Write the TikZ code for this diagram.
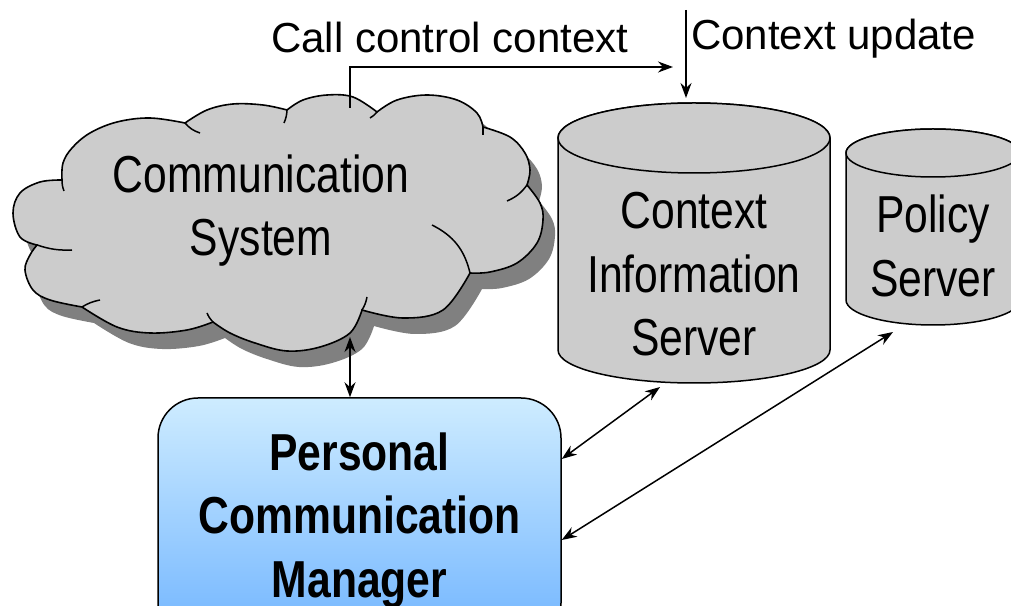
\documentclass[tikz,border=0pt]{standalone}
\usepackage{fontspec}
\setmainfont{Liberation Sans}
\newfontfamily\narrowfont{Liberation Sans}[FakeStretch=0.82]
\usetikzlibrary{arrows.meta}
\usetikzlibrary{calc}
\definecolor{cloudgray}{RGB}{204,204,204}
\definecolor{shadowgray}{RGB}{128,128,128}
\definecolor{pcmtop}{RGB}{206,236,255}
\definecolor{pcmbottom}{RGB}{112,180,255}
\tikzset{l/.style={font=\fontsize{42}{50}\selectfont, inner sep=0pt}}
\tikzset{m/.style={font=\narrowfont\fontsize{52}{63.5}\selectfont, align=center, inner sep=0pt}}
\tikzset{conn/.style={line width=1.5pt}}
\tikzset{crease/.style={line width=1.5pt}}
\tikzset{cyl/.style={draw, line width=1.5pt, fill=cloudgray}}
\tikzset{cloud path/.style={insert path={
  (62,425) -- plot[smooth, tension=.6] coordinates {(62,425) (63,442) (72,457) (90,472) (117,483) (150,487) (185,482)}
  -- plot[smooth, tension=.6] coordinates {(185,482) (207,495) (233,501) (263,500) (287,495)}
  -- plot[smooth, tension=.6] coordinates {(287,495) (303,505) (327,510) (353,508) (377,493)}
  -- plot[smooth, tension=.6] coordinates {(377,493) (397,505) (427,510) (457,505) (477,492) (483,478)}
  -- plot[smooth, tension=.6] coordinates {(483,478) (510,468) (525,452) (530,435) (527,420)}
  -- plot[smooth, tension=.6] coordinates {(527,420) (540,402) (543,385) (537,362) (517,342) (490,333) (470,332)}
  -- plot[smooth, tension=.6] coordinates {(470,332) (443,295) (403,287) (362,295)}
  -- plot[smooth, tension=.6] coordinates {(362,295) (350,272) (320,258) (287,254) (255,262) (230,272) (213,283)}
  -- plot[smooth, tension=.6] coordinates {(213,283) (187,275) (150,272) (117,278) (82,298)}
  -- plot[smooth, tension=.6] coordinates {(82,298) (50,305) (33,315) (25,335) (30,350) (37,360)}
  -- plot[smooth, tension=.6] coordinates {(37,360) (20,368) (13,392) (20,412) (40,423) (62,425)}
  -- cycle}}}

\begin{document}
\begin{tikzpicture}[x=1pt, y=1pt, >={Stealth[length=15pt, width=11pt]}]
    \useasboundingbox (0,0) rectangle (1011,605);
    \clip (0,0) rectangle (1011,605);

    % cloud with shadow
    \fill[shadowgray, shift={(12,-16)}, cloud path];
    \filldraw[fill=cloudgray, line width=1.6pt, cloud path];
    \draw[crease] (62,425) to[bend right=10] (64,414);
    \draw[crease] (185,482) to[bend right=15] (200,472);
    \draw[crease] (287,495) to[bend left=10] (284,482);
    \draw[crease] (377,493) to[bend left=10] (370,487);
    \draw[crease] (483,478) to (483,470);
    \draw[crease] (527,420) to[bend left=15] (507,404);
    \draw[crease] (470,332) to[bend right=25] (432,380);
    \draw[crease] (362,295) to[bend right=10] (367,308);
    \draw[crease] (213,283) to[bend left=10] (207,292);
    \draw[crease] (82,298) to[bend left=10] (100,305);
    \draw[crease] (37,360) to[bend right=10] (72,355);
    \node[m] (cs) at (261,394.6) {Communication\\System};

    % context information server
    \draw[cyl] (558,467) -- (558,255)
      arc[start angle=180, end angle=360, x radius=136, y radius=33]
      -- (830,467) arc[start angle=0, end angle=180, x radius=136, y radius=35] -- cycle;
    \draw[cyl] (694,467) ellipse [x radius=136, y radius=35];
    \node[m] (cis) at (694,330.5) {Context\\Information\\Server};

    % policy server
    \draw[cyl] (846,452) -- (846,305)
      arc[start angle=180, end angle=360, x radius=87, y radius=25]
      -- (1020,452) arc[start angle=0, end angle=180, x radius=87, y radius=24] -- cycle;
    \draw[cyl] (933,452) ellipse [x radius=87, y radius=24];
    \node[m] (ps) at (933,359) {Policy\\Server};

    % personal communication manager
    \node[m, font=\narrowfont\bfseries\fontsize{52}{63.5}\selectfont, draw, line width=1.5pt,
      rounded corners=40pt, top color=pcmtop, bottom color=pcmbottom,
      minimum width=403pt, minimum height=245pt] (pcm) at (359.5,84.5)
      {Personal\\Communication\\Manager};

    % labels and connectors
    \coordinate (cstop) at (350,497);
    \coordinate (ccend) at (673,538);
    \coordinate (updstart) at (686,595);
    \coordinate (cistop) at (686,507);
    \coordinate (csbottom) at (350,268);
    \coordinate (cisbottom) at (660,218);
    \coordinate (psbottom) at (893,273);
    \node[l, anchor=base west] (ccc) at (271,552) {Call control context};
    \node[l, anchor=base west] (cu) at (691,555) {Context update};
    \draw[conn, ->] (cstop) |- (ccend);
    \draw[conn, ->] (updstart) -- (cistop);
    \draw[conn, <->] (csbottom) -- (csbottom |- pcm.north);
    \draw[conn, <->] (cisbottom) -- ([yshift=61.5pt]pcm.east);
    \draw[conn, <->] (psbottom) -- ([yshift=-19.5pt]pcm.east);
\end{tikzpicture}
\end{document}
